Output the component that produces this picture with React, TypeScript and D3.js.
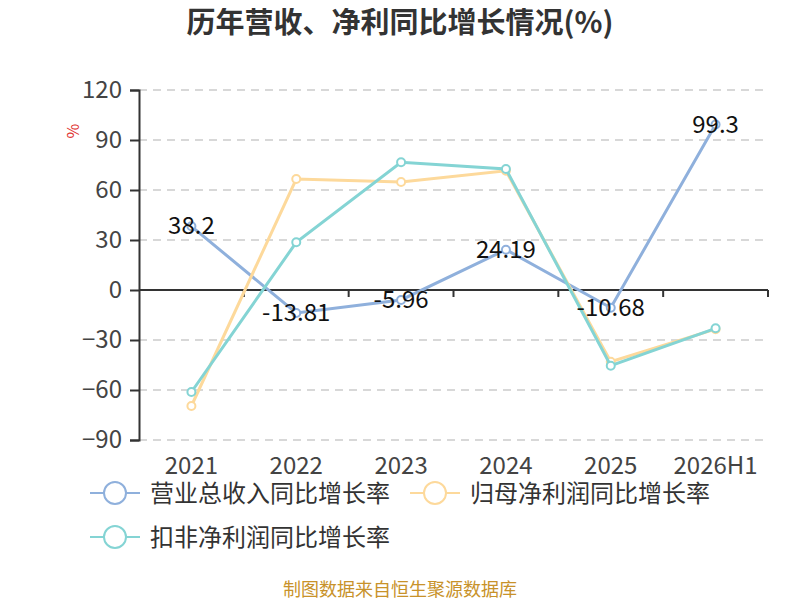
import {useEffect, useRef} from "react";
import * as d3 from "d3";

const SvgWidth = 800;
const SvgHeight = 600;

const years = ["2021", "2022", "2023", "2024", "2025", "2026H1"];
const revenueGrowth = [38.2, -13.81, -5.96, 24.19, -10.68, 99.3];
const netProfitGrowth = [-69.6, 66.6, 64.8, 71.5, -43.0, -23.5];
const deductedProfitGrowth = [-61.2, 28.6, 76.6, 72.6, -45.4, -23.0];
const yTicks = [-90, -60, -30, 0, 30, 60, 90, 120];

const revenueColor = "#8fb0dc";
const netColor = "#fdd99b";
const deductedColor = "#84d4d4";
const font = "'Noto Sans CJK SC', 'Noto Sans', sans-serif";

const seriesList = [
    {name: "营业总收入同比增长率", values: revenueGrowth, color: revenueColor},
    {name: "归母净利润同比增长率", values: netProfitGrowth, color: netColor},
    {name: "扣非净利润同比增长率", values: deductedProfitGrowth, color: deductedColor},
];

function App() {
    const gridRef = useRef(null);
    const yAxisRef = useRef(null);
    const xAxisRef = useRef(null);
    const xLabelRef = useRef(null);

    let left = 139;
    let right = 768;
    let top = 90;
    let bottom = 440;

    const xScale = d3.scaleBand().domain(years).range([left, right]);
    const yScale = d3.scaleLinear().domain([-90, 120]).range([bottom, top]);

    useEffect(() => {
        let yAxisElm = d3.select(yAxisRef.current);
        yAxisElm.call(d3.axisLeft(yScale).tickValues(yTicks).tickSize(9).tickPadding(8));
        yAxisElm.select(".domain").attr("stroke", "#333").attr("stroke-width", 2);
        yAxisElm.selectAll(".tick line").attr("stroke", "#333").attr("stroke-width", 2);
        yAxisElm.selectAll(".tick text")
            .attr("font-size", 24).attr("fill", "#444").attr("font-family", font);

        let gridElm = d3.select(gridRef.current);
        gridElm.selectAll("line").data(yTicks.filter(t => t !== 0)).join("line")
            .attr("x1", left).attr("x2", right)
            .attr("y1", d => yScale(d)).attr("y2", d => yScale(d))
            .attr("stroke", "#ccc").attr("stroke-width", 1.5)
            .attr("stroke-dasharray", "8,6");

        let xAxisElm = d3.select(xAxisRef.current);
        const bounds = years.map(y => xScale(y) + xScale.bandwidth());
        xAxisElm.selectAll("line.tick").data(bounds).join("line")
            .attr("class", "tick")
            .attr("x1", d => d).attr("x2", d => d)
            .attr("y1", yScale(0)).attr("y2", yScale(0) + 7)
            .attr("stroke", "#333").attr("stroke-width", 2);

        let xLabelElm = d3.select(xLabelRef.current);
        xLabelElm.selectAll("text").data(years).join("text")
            .attr("x", d => xScale(d) + xScale.bandwidth() / 2)
            .attr("y", 474)
            .attr("text-anchor", "middle")
            .attr("font-size", 24).attr("fill", "#444").attr("font-family", font)
            .text(d => d);
    }, []);

    const line = d3.line<number>()
        .x((d, i) => xScale(years[i]) + xScale.bandwidth() / 2)
        .y(d => yScale(d));

    return (
        <div>
            <svg width={SvgWidth} height={SvgHeight} style={{display: "block", marginLeft: -8, marginTop: -8}}>
                <text x={400} y={33} textAnchor="middle" fontSize={29} fontWeight="bold"
                      fill="#333" fontFamily={font}>历年营收、净利同比增长情况(%)</text>
                <text transform="translate(79, 131) rotate(-90)" textAnchor="middle" fontSize={16}
                      fill="#e03030" fontFamily={font}>%</text>
                <g ref={gridRef}></g>
                <line x1={left} x2={right} y1={yScale(0)} y2={yScale(0)} stroke="#333" strokeWidth={2}></line>
                <g ref={xAxisRef}></g>
                <g ref={yAxisRef} transform={`translate(${left},0)`}></g>
                <g ref={xLabelRef}></g>

                {seriesList.map(s => (
                    <g key={s.name}>
                        <path d={line(s.values)} fill="none" stroke={s.color} strokeWidth={3}></path>
                        {s.values.map((v, i) => (
                            <circle key={i} cx={xScale(years[i]) + xScale.bandwidth() / 2} cy={yScale(v)}
                                    r={4} fill="#fff" stroke={s.color} strokeWidth={2}></circle>
                        ))}
                    </g>
                ))}

                {revenueGrowth.map((v, i) => (
                    <text key={i} x={xScale(years[i]) + xScale.bandwidth() / 2} y={yScale(v) + 8}
                          textAnchor="middle" fontSize={24} fill="#111" fontFamily={font}>{v}</text>
                ))}

                {seriesList.map((s, i) => {
                    let lx = i === 1 ? 410 : 90;
                    let ly = i === 2 ? 537 : 493;
                    return (
                        <g key={s.name}>
                            <line x1={lx} x2={lx + 50} y1={ly} y2={ly} stroke={s.color} strokeWidth={2}></line>
                            <circle cx={lx + 25} cy={ly} r={11} fill="#fff" stroke={s.color} strokeWidth={2}></circle>
                            <text x={lx + 60} y={ly + 9} fontSize={24} fill="#333" fontFamily={font}>{s.name}</text>
                        </g>
                    );
                })}

                <text x={400} y={596} textAnchor="middle" fontSize={18} fill="#c8922a"
                      fontFamily={font}>制图数据来自恒生聚源数据库</text>
            </svg>
        </div>
    );
}

export default App;
